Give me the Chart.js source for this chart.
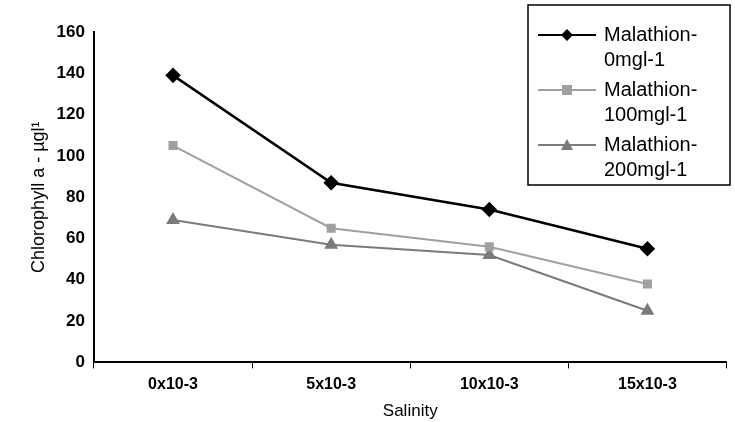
<!DOCTYPE html>
<html>
<head>
<script src="https://cdn.jsdelivr.net/npm/chart.js@4"></script>
<style>
body { margin: 0; background: #fff; }
</style>
</head>
<body>
<canvas id="c" width="735" height="422"></canvas>
<script>
const categories = ['0x10-3', '5x10-3', '10x10-3', '15x10-3']
const mal0 = [139, 87, 74, 55]
const mal100 = [105, 65, 56, 38]
const mal200 = [69, 57, 52, 25]
const seriesNames = [['Malathion-', '0mgl-1'], ['Malathion-', '100mgl-1'], ['Malathion-', '200mgl-1']]

const legendBox = {
    id: 'legendBox',
    afterDraw(chart) {
        const ctx = chart.ctx
        const x = 528, y = 5, w = 202, h = 180
        ctx.save()
        ctx.fillStyle = '#fff'
        ctx.fillRect(x, y, w, h)
        ctx.strokeStyle = '#000'
        ctx.lineWidth = 1.5
        ctx.strokeRect(x, y, w, h)
        chart.data.datasets.forEach((ds, i) => {
            const cy = y + 30 + i * 55
            ctx.strokeStyle = ds.borderColor
            ctx.lineWidth = 2
            ctx.beginPath(); ctx.moveTo(x + 10, cy); ctx.lineTo(x + 68, cy); ctx.stroke()
            ctx.fillStyle = ds.pointBackgroundColor
            const m = x + 39
            ctx.beginPath()
            if (ds.pointStyle === 'rectRot') { ctx.moveTo(m, cy - 6); ctx.lineTo(m + 6, cy); ctx.lineTo(m, cy + 6); ctx.lineTo(m - 6, cy) }
            else if (ds.pointStyle === 'rect') { ctx.rect(m - 5, cy - 5, 10, 10) }
            else { ctx.moveTo(m, cy - 6); ctx.lineTo(m + 6, cy + 5); ctx.lineTo(m - 6, cy + 5) }
            ctx.closePath(); ctx.fill()
            ctx.fillStyle = '#000'
            ctx.font = '20px Arial, "Liberation Sans"'
            ctx.textBaseline = 'middle'
            ctx.fillText(ds.label[0], x + 76, cy)
            ctx.fillText(ds.label[1], x + 76, cy + 25)
        })
        ctx.restore()
    }
}

new Chart(document.getElementById('c'), {
    type: 'line',
    plugins: [legendBox],
    data: {
        labels: categories,
        datasets: [
            { label: seriesNames[0], data: mal0, borderColor: '#000', pointBackgroundColor: '#000', pointBorderColor: '#000', pointStyle: 'rectRot', pointRadius: 6, borderWidth: 2.5 },
            { label: seriesNames[1], data: mal100, borderColor: '#a0a0a0', pointBackgroundColor: '#a0a0a0', pointBorderColor: '#a0a0a0', pointStyle: 'rect', pointRadius: 5, borderWidth: 2 },
            { label: seriesNames[2], data: mal200, borderColor: '#7a7a7a', pointBackgroundColor: '#7a7a7a', pointBorderColor: '#7a7a7a', pointStyle: 'triangle', pointRadius: 6, borderWidth: 2 }
        ]
    },
    options: {
        animation: false,
        responsive: false,
        devicePixelRatio: 1,
        layout: { padding: { top: 32, right: 0, left: 24, bottom: 0 } },
        plugins: { legend: { display: false }, tooltip: { enabled: false } },
        scales: {
            y: {
                min: 0, max: 160,
                ticks: { stepSize: 20, color: '#000', font: { size: 17, weight: 'bold', family: 'Arial' } },
                grid: { display: false, drawTicks: true, tickLength: 6, tickColor: '#000' },
                border: { color: '#000', width: 2 },
                title: { display: true, text: 'Chlorophyll a - µgl\u00b9', color: '#000', font: { size: 18, family: 'Arial' } }
            },
            x: {
                offset: true,
                ticks: { padding: 7, color: '#000', font: { size: 16, weight: 'bold', family: 'Arial' } },
                grid: { display: true, drawOnChartArea: false, offset: true, tickLength: 6, tickColor: '#000' },
                border: { color: '#000', width: 2 },
                title: { display: true, text: 'Salinity', color: '#000', padding: 0, font: { size: 17, family: 'Arial' } }
            }
        }
    }
})
</script>
</body>
</html>
